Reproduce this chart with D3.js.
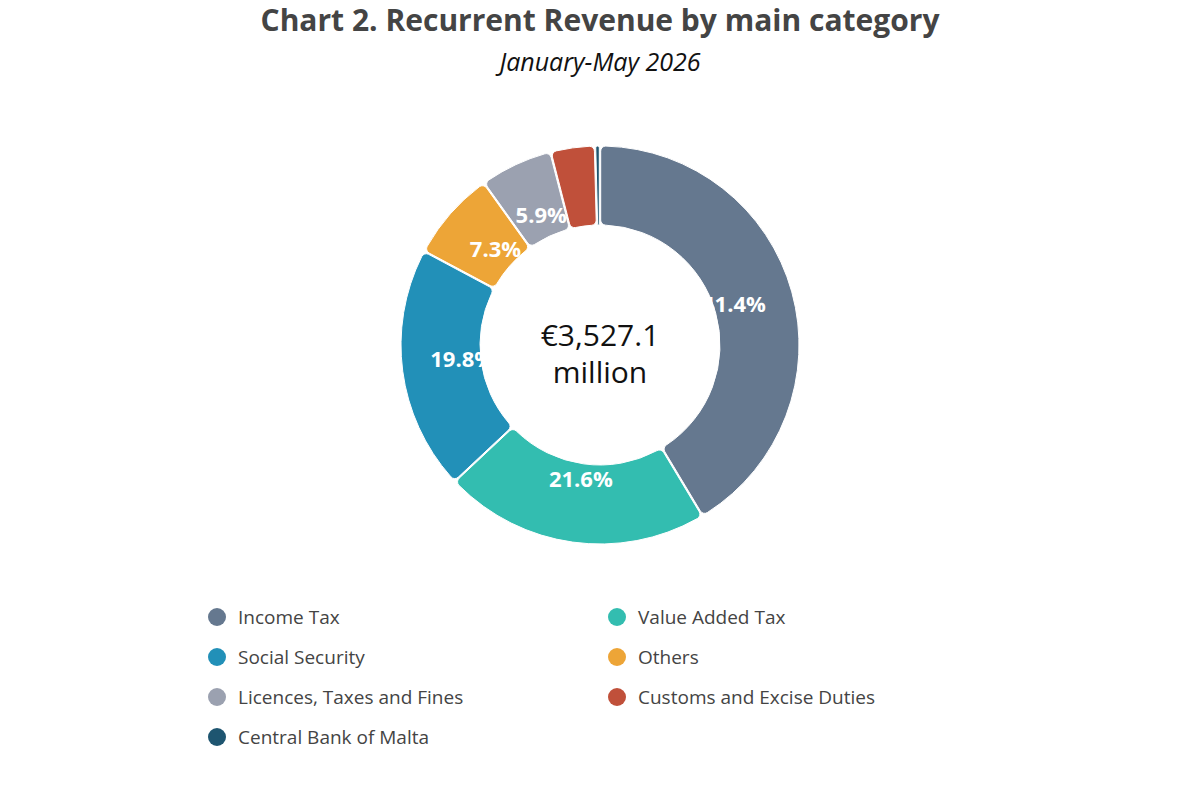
<!DOCTYPE html>
<html>
<head>
<meta charset="utf-8">
<script src="https://cdn.jsdelivr.net/npm/d3@7"></script>
<style>
  body { margin: 0; background: #fff; }
  svg { display: block; font-family: "Open Sans", "Noto Sans", sans-serif; }
</style>
</head>
<body>
<div id="chart"></div>
<script>
// data (shares of recurrent revenue, %)
const categories = ["Income Tax", "Value Added Tax", "Social Security", "Others",
  "Licences, Taxes and Fines", "Customs and Excise Duties", "Central Bank of Malta"];
const shares = [41.4, 21.6, 19.8, 7.3, 5.9, 3.6, 0.4];
const colors = ["#65788f", "#33bdb0", "#2290b8", "#eda537", "#9ba1b0", "#c0503a", "#1e5570"];
const totalLabel = ["€3,527.1", "million"];

const width = 1200, height = 800;
const cx = 600, cy = 345;
const outerR = 199, innerR = 120;

const svg = d3.select("#chart").append("svg")
    .attr("width", width)
    .attr("height", height);

svg.append("text")
    .attr("x", width / 2).attr("y", 31)
    .attr("text-anchor", "middle")
    .style("font-size", "30px").style("font-weight", "bold")
    .style("fill", "#444")
    .text("Chart 2. Recurrent Revenue by main category");

svg.append("text")
    .attr("x", width / 2).attr("y", 71)
    .attr("text-anchor", "middle")
    .style("font-size", "25px").style("font-style", "italic")
    .style("fill", "#111")
    .text("January-May 2026");

const data = categories.map((c, i) => ({ name: c, value: shares[i], color: colors[i] }));

const pie = d3.pie().sort(null).value(d => d.value);
const arc = d3.arc()
    .innerRadius(innerR)
    .outerRadius(outerR)
    .cornerRadius(5)
    .padAngle(0.006);

const g = svg.append("g").attr("transform", "translate(" + cx + "," + cy + ")");
const arcs = pie(data);

g.selectAll("path.slice")
    .data(arcs)
    .enter().append("path")
    .attr("class", "slice")
    .attr("d", arc)
    .style("fill", d => d.data.color)
    .style("stroke", "#fff")
    .style("stroke-width", 1);

// labels, partly covered by the hole
const labelArc = d3.arc().innerRadius(139).outerRadius(139);
g.selectAll("text.pct")
    .data(arcs.filter(d => d.data.value >= 5))
    .enter().append("text")
    .attr("class", "pct")
    .attr("transform", d => "translate(" + labelArc.centroid(d) + ")")
    .attr("text-anchor", "middle")
    .attr("dy", "0.18em")
    .style("font-size", "22px").style("font-weight", "bold")
    .style("fill", "#fff")
    .text(d => d.data.value.toFixed(1) + "%");

g.append("circle").attr("r", innerR - 1).style("fill", "#fff");

g.selectAll("text.total")
    .data(totalLabel)
    .enter().append("text")
    .attr("class", "total")
    .attr("text-anchor", "middle")
    .attr("y", (d, i) => 1 + i * 37)
    .style("font-size", "30px")
    .style("fill", "#111")
    .text(d => d);

// legend: two columns
const legend = svg.append("g");
const items = legend.selectAll("g.item")
    .data(data)
    .enter().append("g")
    .attr("class", "item")
    .attr("transform", (d, i) => "translate(" + (217 + (i % 2) * 400) + "," + (617 + Math.floor(i / 2) * 40) + ")");

items.append("circle").attr("r", 9).style("fill", d => d.color);
items.append("text")
    .attr("x", 21).attr("dy", "0.35em")
    .style("font-size", "19px")
    .style("fill", "#444")
    .text(d => d.name);
</script>
</body>
</html>
